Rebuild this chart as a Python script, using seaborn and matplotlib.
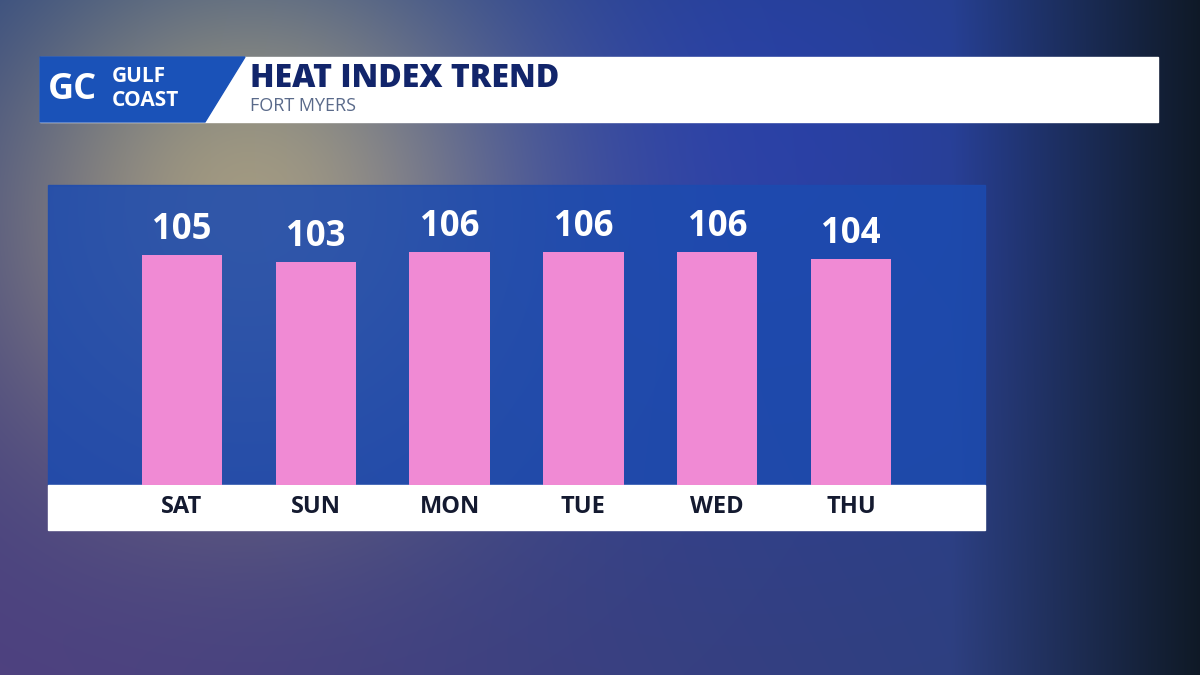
import numpy as np
import pandas as pd
import matplotlib
matplotlib.use("Agg")
import matplotlib.pyplot as plt
import seaborn as sns
from matplotlib.patches import Rectangle, Polygon

days = ["SAT", "SUN", "MON", "TUE", "WED", "THU"]
heat_index = [105, 103, 106, 106, 106, 104]
title = "HEAT INDEX TREND"
subtitle = "FORT MYERS"

sns.set_theme(style="white")
plt.rcParams['font.family'] = ['Open Sans', 'DejaVu Sans']

W, H = 1200, 675
fig = plt.figure(figsize=(12, 6.75), dpi=100)

# background
bg = fig.add_axes([0, 0, 1, 1])
bg.set_xlim(0, W); bg.set_ylim(H, 0); bg.axis("off")
yy, xx = np.mgrid[0:H, 0:W]
glow = np.exp(-((xx - 250) ** 2 + (yy - 200) ** 2) / 70000.0)
r = 0.15 + 0.45 * glow + 0.15 * (1 - xx / W) * (yy / H)
g = 0.25 + 0.35 * glow
b = 0.50 + 0.15 * np.exp(-((xx - 750) ** 2 + (yy - 150) ** 2) / 90000.0)
dark = np.clip((xx - 950) / 250, 0, 1)
r = r * (1 - 0.6 * dark); g = g * (1 - 0.6 * dark); b = b * (1 - 0.7 * dark)
img = np.clip(np.dstack([r, g, b]), 0, 1)
bg.imshow(img, extent=[0, W, H, 0], aspect="auto")

# header
bg.add_patch(Rectangle((40, 57), 1118, 65, color="white"))
bg.add_patch(Polygon([(40, 57), (245, 57), (205, 122), (40, 122)], color="#1a52b8"))
bg.text(48, 90, "GC", color="white", fontsize=26, fontweight="bold", va="center")
bg.text(112, 77, "GULF", color="white", fontsize=15, fontweight="bold", va="center")
bg.text(112, 100, "COAST", color="white", fontsize=15, fontweight="bold", va="center")
bg.text(250, 79, title, color="#12256b", fontsize=23, fontweight="heavy", va="center")
bg.text(250, 106, subtitle, color="#5a6a8a", fontsize=13, va="center")

# panel
bg.add_patch(Rectangle((48, 185), 937, 300, color="#1c4bb0", alpha=0.85))
bg.add_patch(Rectangle((48, 485), 937, 45, color="white"))

ax = fig.add_axes([48 / W, 1 - 485 / H, 937 / W, 300 / H])
ax.patch.set_alpha(0)
df = pd.DataFrame({"day": days, "val": heat_index})
sns.barplot(data=df, x="day", y="val", color="#f08ad4", saturation=1, width=0.6,
            linewidth=0, edgecolor="none", ax=ax)
ax.set_xlim(-1, 6)
ax.set_ylim(39.3, 125)
ax.axis("off")
for i, v in enumerate(heat_index):
    ax.text(i, v + 2, str(v), ha="center", va="bottom", color="white", fontsize=25, fontweight="bold")
    ax.text(i, 39.3 - 6.4, days[i], ha="center", va="center", color="#141a30", fontsize=17, fontweight="bold", clip_on=False)

fig.savefig("out.png", dpi=100)
